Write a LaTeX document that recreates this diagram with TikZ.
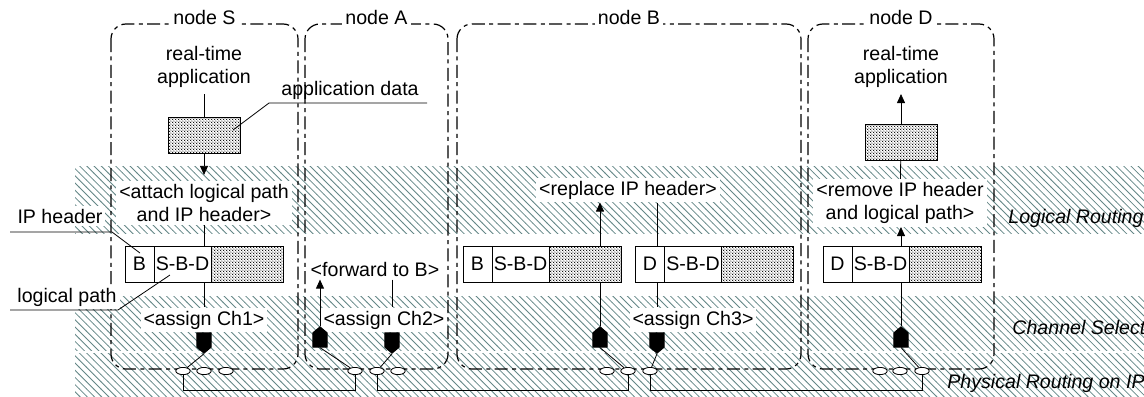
\documentclass[tikz,border=0pt]{standalone}
\usepackage{fontspec}
\setmainfont{Liberation Sans}
\usetikzlibrary{positioning,shapes.symbols,shapes.geometric,arrows.meta,patterns}

\definecolor{hatchteal}{RGB}{100,135,135}

% fine dot raster for the payload blocks
\pgfdeclarepatternformonly{finedots}{\pgfqpoint{0pt}{0pt}}{\pgfqpoint{1.6pt}{1.6pt}}{\pgfqpoint{1.6pt}{1.6pt}}{%
  \pgfpathcircle{\pgfqpoint{0.4pt}{0.4pt}}{0.38pt}%
  \pgfpathcircle{\pgfqpoint{1.2pt}{1.2pt}}{0.38pt}%
  \pgfusepath{fill}}
% thin diagonal hatch for the protocol layers
\pgfdeclarepatternformonly{layerhatch}{\pgfqpoint{-0.5pt}{-0.5pt}}{\pgfqpoint{4.1pt}{4.1pt}}{\pgfqpoint{3.6pt}{3.6pt}}{%
  \pgfsetlinewidth{0.4pt}%
  \pgfpathmoveto{\pgfqpoint{-0.1pt}{3.7pt}}%
  \pgfpathlineto{\pgfqpoint{3.7pt}{-0.1pt}}%
  \pgfusepath{stroke}}

\pgfdeclarelayer{bands}
\pgfdeclarelayer{wires}
\pgfsetlayers{bands,wires,main}

\tikzset{
  layerband/.style={pattern=layerhatch, pattern color=hatchteal},
  nodebox/.style={draw, line width=0.6pt, rounded corners=7.5pt, dash pattern=on 6.5pt off 2.2pt on 2pt off 2.2pt},
  nodetitle/.style={fill=white, inner xsep=1.5pt, inner ysep=1pt, anchor=base},
  plaintext/.style={align=center, inner sep=3pt},
  steptext/.style={fill=white, align=center, inner sep=1.5pt},
  sidetext/.style={fill=white, inner sep=1.5pt},
  datablock/.style={draw, fill=white, postaction={pattern=finedots}, minimum width=36pt, minimum height=18pt, inner sep=0pt},
  hdrcell/.style={draw, fill=white, minimum width=14.5pt, minimum height=18pt, inner sep=0pt, outer sep=0pt},
  pathcell/.style={hdrcell, minimum width=28.5pt},
  bodycell/.style={hdrcell, minimum width=36pt, postaction={pattern=finedots}},
  txant/.style={signal, signal to=south, signal from=nowhere, fill=black, draw=black, inner sep=0pt, minimum width=7.2pt, minimum height=7.2pt, signal pointer angle=100},
  rxant/.style={txant, signal to=north},
  radio/.style={ellipse, draw, fill=white, minimum width=7.2pt, minimum height=3.6pt, inner sep=0pt},
  flow/.style={-{Triangle[length=4.5pt,width=4pt]}},
  layerlabel/.style={font=\fontsize{9.8}{11.5}\selectfont\itshape, anchor=west, inner sep=0pt}
}

\begin{document}
\begin{tikzpicture}[x=0.5pt, y=-0.5pt, line width=0.5pt, font=\fontsize{9.8}{11.5}\selectfont]
\useasboundingbox (0,0) rectangle (1144,396);

% hatched protocol layers
\begin{pgfonlayer}{bands}
  \fill[layerband] (75,166) rectangle (1144,233);
  \fill[layerband] (75,296) rectangle (1144,350);
  \fill[layerband] (75,353) rectangle (1144,396);
\end{pgfonlayer}
\node[layerlabel] (lblLogical) at (1008,218) {Logical Routing};
\node[layerlabel] (lblChannel) at (1012,327) {Channel Selection};
\node[layerlabel] (lblPhysical) at (947,383) {Physical Routing on IP};

% node outlines
\draw[nodebox] (111,24) rectangle (298,369);
\draw[nodebox] (305,24) rectangle (448,369);
\draw[nodebox] (457,24) rectangle (801,369);
\draw[nodebox] (808,24) rectangle (994,369);
\node[nodetitle] (titleS) at (204.5,25) {node S};
\node[nodetitle] (titleA) at (376.5,25) {node A};
\node[nodetitle] (titleB) at (629,25) {node B};
\node[nodetitle] (titleD) at (901,25) {node D};

% node S: source
\node[plaintext] (appS) at (204,67) {real-time\\application};
\node[datablock] (dataS) at (204,135) {};
\node[steptext] (attachS) at (204,203) {<attach logical path\\and IP header>};
\node[hdrcell] (hdrS) at (139.5,264) {B};
\node[pathcell, right=0pt of hdrS] (pathS) {S-B-D};
\node[bodycell, right=0pt of pathS] (bodyS) {};
\node[steptext] (assignS) at (204,320) {<assign Ch1>};
\node[txant] (txS) at (204,340) {};
\node[radio] (ifS1) at (183,371) {};
\node[radio] (ifS2) at (204,371) {};
\node[radio] (ifS3) at (226,371) {};

% node A: relay
\node[steptext] (fwdA) at (375,269) {<forward to B>};
\node[steptext] (assignA) at (384,320) {<assign Ch2>};
\node[rxant] (rxA) at (320,340) {};
\node[txant] (txA) at (392,340) {};
\node[radio] (ifA1) at (355,371) {};
\node[radio] (ifA2) at (377,371) {};
\node[radio] (ifA3) at (398,371) {};

% node B: logical hop
\node[steptext] (replB) at (628,190) {<replace IP header>};
\node[hdrcell] (hdrB1) at (477.5,264) {B};
\node[pathcell, right=0pt of hdrB1] (pathB1) {S-B-D};
\node[bodycell, right=0pt of pathB1] (bodyB1) {};
\node[hdrcell] (hdrB2) at (650,264) {D};
\node[pathcell, right=0pt of hdrB2] (pathB2) {S-B-D};
\node[bodycell, right=0pt of pathB2] (bodyB2) {};
\node[steptext] (assignB) at (693,320) {<assign Ch3>};
\node[rxant] (rxB) at (600,340) {};
\node[txant] (txB) at (657,340) {};
\node[radio] (ifB1) at (607,371) {};
\node[radio] (ifB2) at (628,371) {};
\node[radio] (ifB3) at (650,371) {};

% node D: destination
\node[plaintext] (appD) at (901,67) {real-time\\application};
\node[datablock] (dataD) at (901,142) {};
\node[steptext] (removeD) at (900,203) {<remove IP header\\and logical path>};
\node[hdrcell] (hdrD) at (837.5,264) {D};
\node[pathcell, right=0pt of hdrD] (pathD) {S-B-D};
\node[bodycell, right=0pt of pathD] (bodyD) {};
\node[rxant] (rxD) at (901,340) {};
\node[radio] (ifD1) at (880,371) {};
\node[radio] (ifD2) at (900,371) {};
\node[radio] (ifD3) at (922,371) {};

% processing flow, behind the packets
\begin{pgfonlayer}{wires}
  \draw (appS) -- (dataS);
  \draw[flow, shorten >=3pt] (dataS) -- (attachS);
  \draw (attachS) -- (assignS);
  \draw[flow] (rxA.north) -- (rxA.north |- fwdA.south);
  \draw (fwdA.south -| txA) -- (assignA.north -| txA);
  \draw[flow] (rxB.north) -- (rxB.north |- replB.south);
  \draw (replB.south -| txB) -- (assignB.north -| txB);
  \draw[flow] (dataD) -- (appD);
  \draw (dataD) -- (removeD);
  \draw[flow] (rxD.north) -- (rxD.north |- removeD.south);
  % radio links between the nodes
  \draw (ifS1.south) -- ++(0,15) -| (ifA1.south);
  \draw (ifA2.south) -- ++(0,15) -| (ifB2.south);
  \draw (ifB3.south) -- ++(0,15) -| (ifD3.south);
\end{pgfonlayer}

% antennas to interfaces
\draw (txS.south) -- (ifS1);
\draw (rxA.south) -- (ifA1);
\draw (txA.south) -- (ifA2);
\draw (rxB.south) -- (ifB2);
\draw (txB.south) -- (ifB3);
\draw (rxD.south) -- (ifD3);

% callouts
\node[plaintext] (appData) at (350,90) {application data};
\coordinate (appDataTip) at (233,130);
\draw (appDataTip) -- (269,103) -- (427,103);
\node[sidetext] (ipLabel) at (60,216) {IP header};
\coordinate (ipTip) at (140,253);
\draw (ipTip) -- (112,232) -- (10,232);
\node[sidetext] (pathLabel) at (67,297) {logical path};
\coordinate (pathTip) at (170,275);
\draw (pathTip) -- (118,310) -- (10,310);
\end{tikzpicture}
\end{document}
